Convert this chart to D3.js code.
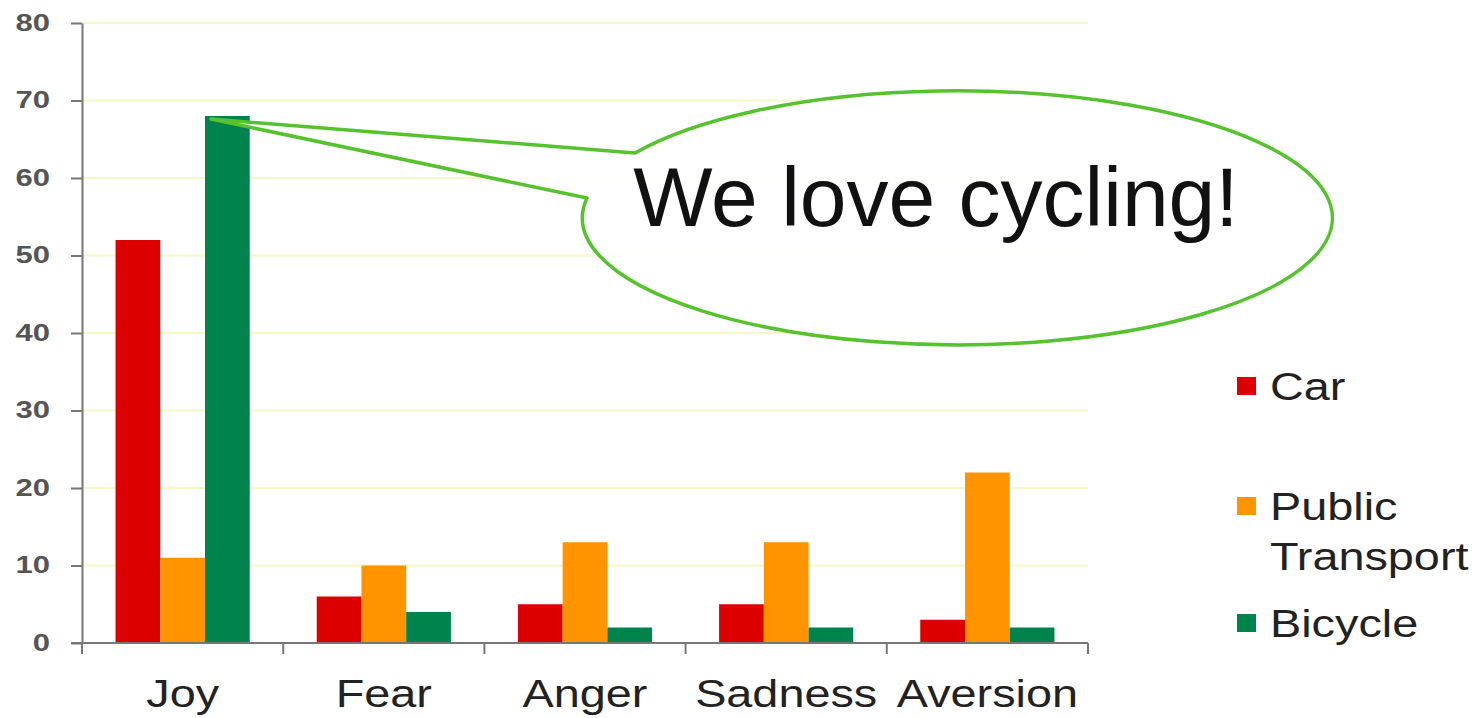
<!DOCTYPE html>
<html>
<head>
<meta charset="utf-8">
<script src="https://cdn.jsdelivr.net/npm/d3@7"></script>
<style>
  body { margin: 0; background: #fff; }
  text { font-family: "Liberation Sans", Arial, sans-serif; }
</style>
</head>
<body>
<div id="chart"></div>
<script>
//chart data
const categories = ["Joy", "Fear", "Anger", "Sadness", "Aversion"];
const seriesNames = ["Car", "Public Transport", "Bicycle"];
const carValues = [52, 6, 5, 5, 3];
const publicTransportValues = [11, 10, 13, 13, 22];
const bicycleValues = [68, 4, 2, 2, 2];
const yTicks = [0, 10, 20, 30, 40, 50, 60, 70, 80];
const calloutText = "We love cycling!";

const colors = ["#dc0000", "#ff9400", "#00834c"];
const seriesValues = [carValues, publicTransportValues, bicycleValues];

const width = 1484;
const height = 718;
const plot = { left: 82, right: 1088, top: 23, bottom: 643 };
const stretch = 1.2; //labels in the original are a bit wide

const svg = d3.select("#chart")
  .append("svg")
  .attr("width", width)
  .attr("height", height)
  .style("background-color", "#fff");

const y = d3.scaleLinear().domain([0, 80]).range([plot.bottom, plot.top]);

const x0 = d3.scaleBand()
  .domain(categories)
  .range([plot.left, plot.right])
  .paddingInner(0.333)
  .paddingOuter(0.1667);

const x1 = d3.scaleBand()
  .domain(seriesNames)
  .range([0, x0.bandwidth()]);

//gridlines
svg.append("g")
  .selectAll("line")
  .data(yTicks.filter(d => d > 0))
  .join("line")
  .attr("x1", plot.left)
  .attr("x2", plot.right)
  .attr("y1", d => y(d))
  .attr("y2", d => y(d))
  .attr("stroke", "#f8f8c4")
  .attr("stroke-width", 2);

//bars
const groups = svg.append("g")
  .selectAll("g")
  .data(categories)
  .join("g")
  .attr("transform", d => `translate(${x0(d)},0)`);

groups.selectAll("rect")
  .data((cat, i) => seriesNames.map((s, j) => ({ s, j, v: seriesValues[j][i] })))
  .join("rect")
  .attr("x", d => x1(d.s))
  .attr("width", x1.bandwidth())
  .attr("y", d => y(d.v))
  .attr("height", d => y(0) - y(d.v))
  .attr("fill", d => colors[d.j]);

//y axis
const yAxis = svg.append("g")
  .attr("transform", `translate(${plot.left},0)`)
  .call(d3.axisLeft(y).tickValues(yTicks).tickSize(11).tickSizeOuter(0));
yAxis.select(".domain").attr("stroke", "#777").attr("stroke-width", 2);
yAxis.selectAll(".tick line").attr("stroke", "#777").attr("stroke-width", 2);
const tickStretch = 1.35;
yAxis.selectAll(".tick text")
  .attr("x", -32 / tickStretch)
  .attr("transform", `scale(${tickStretch},1)`)
  .attr("font-size", 23)
  .attr("font-weight", "bold")
  .attr("fill", "#555")
  .style("font-family", "'Liberation Sans', Arial, sans-serif");

//x axis with boundary ticks
const xAxis = svg.append("g");
xAxis.append("line")
  .attr("x1", plot.left - 11)
  .attr("x2", plot.right)
  .attr("y1", plot.bottom)
  .attr("y2", plot.bottom)
  .attr("stroke", "#777")
  .attr("stroke-width", 2);
const step = x0.step();
const boundaries = categories.map(c => x0(c) - step * x0.paddingInner() / 2).concat([plot.right]);
boundaries[0] = plot.left;
xAxis.selectAll(".xtick")
  .data(boundaries)
  .join("line")
  .attr("class", "xtick")
  .attr("x1", d => d)
  .attr("x2", d => d)
  .attr("y1", plot.bottom)
  .attr("y2", plot.bottom + 11)
  .attr("stroke", "#777")
  .attr("stroke-width", 2);
xAxis.selectAll(".xlabel")
  .data(categories)
  .join("text")
  .attr("class", "xlabel")
  .attr("transform", d => `translate(${x0(d) + x0.bandwidth() / 2},707) scale(${stretch},1)`)
  .attr("text-anchor", "middle")
  .attr("font-size", 39)
  .attr("fill", "#222")
  .text(d => d);

//callout bubble pointing at the bicycle bar for joy
const tipX = x0("Joy") + x1("Bicycle") + 6;
const tipY = y(67.6);
const ell = { cx: 955, cy: 220, rx: 375, ry: 127 };
const p1 = { x: 635, y: 153 };
const p2 = { x: 587, y: 198 };
svg.append("path")
  .attr("d", `M${tipX},${tipY} L${p1.x},${p1.y} A${ell.rx},${ell.ry} 0 1 1 ${p2.x},${p2.y} Z`)
  .attr("fill", "#fff")
  .attr("fill-opacity", 0.9)
  .attr("stroke", "#55c22e")
  .attr("stroke-width", 3.5)
  .attr("stroke-linejoin", "round");
svg.append("text")
  .attr("x", 936)
  .attr("y", 226)
  .attr("text-anchor", "middle")
  .attr("font-size", 84)
  .attr("fill", "#111")
  .text(calloutText);

//legend
const legendRows = [
  { lines: ["Car"], y: 400 },
  { lines: ["Public", "Transport"], y: 520 },
  { lines: ["Bicycle"], y: 637 }
];
const legend = svg.append("g");
legendRows.forEach((row, i) => {
  legend.append("rect")
    .attr("x", 1237)
    .attr("y", row.y - 23)
    .attr("width", 19)
    .attr("height", 18)
    .attr("fill", colors[i]);
  const t = legend.append("text")
    .attr("transform", `translate(1270,${row.y}) scale(${stretch},1)`)
    .attr("font-size", 39)
    .attr("fill", "#222");
  row.lines.forEach((line, k) => {
    t.append("tspan")
      .attr("x", 0)
      .attr("dy", k === 0 ? 0 : 50)
      .text(line);
  });
});
</script>
</body>
</html>
